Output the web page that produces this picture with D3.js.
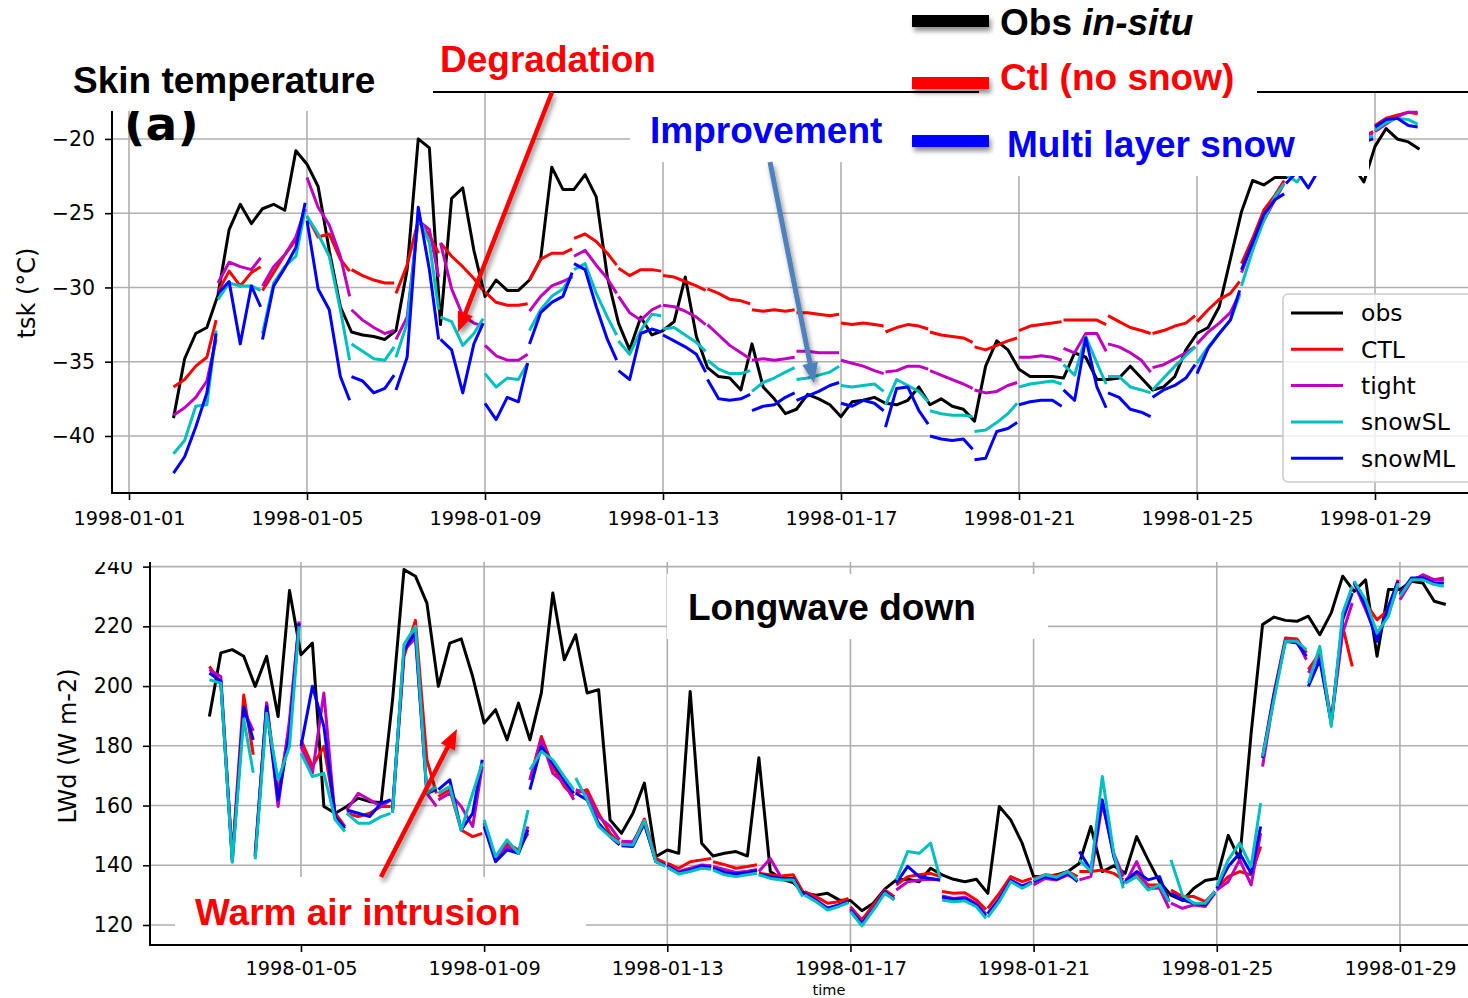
<!DOCTYPE html>
<html><head><meta charset="utf-8">
<script src="https://cdn.jsdelivr.net/npm/d3@7"></script>
<style>
html,body{margin:0;padding:0;background:#fff;}
svg{display:block;}
</style></head><body>
<svg id="chart" width="1468" height="998"></svg>
<script>
// ---------------- DATA ----------------
const seriesNames  = ["obs","CTL","tight","snowSL","snowML"];
const seriesColors = ["#000000","#ff0000","#bf00bf","#00bfbf","#0000ff"];
const modelHours = [0,6,12,18,23];      // sample hours inside each daily forecast segment
const obsStepHours = 6;
const topStartDay = 1;                  // days after 1998-01-01 00:00
const botStartDay = 2;
const xTickDaysTop = [0,4,8,12,16,20,24,28];
const xTickDaysBot = [4,8,12,16,20,24,28];
const yTicksTop = [-40,-35,-30,-25,-20];
const yTicksBot = [120,140,160,180,200,220,240];

// Skin temperature (deg C) - observations every 6 h from Jan 2
const topObs = [
 -38.8,-34.8,-33.1,-32.7, -30.5,-26.1,-24.4,-25.7, -24.7,-24.4,-24.8,-20.8,
 -21.7,-23.2,-27.5,-31.3, -33.0,-33.2,-33.3,-33.5, -32.9,-28.8,-20.0,-20.6,
 -32.5,-24.0,-23.3,-27.5, -30.6,-29.5,-30.2,-30.2, -29.5,-28.1,-21.9,-23.4,
 -23.4,-22.4,-23.9,-29.3, -32.4,-34.2,-32.0,-33.2, -32.9,-32.3,-29.3,-33.3,
 -35.4,-36.0,-36.1,-36.9, -33.8,-36.7,-37.5,-38.5, -38.2,-37.2,-37.5,-37.9,
 -38.7,-37.7,-37.6,-37.4, -37.8,-37.9,-37.6,-36.7, -37.9,-37.5,-38.0,-38.2,
 -39.0,-35.3,-33.6,-34.2, -35.5,-36.0,-36.0,-36.0, -36.1,-34.4,-34.7,-36.2,
 -36.2,-36.1,-35.3,-36.1, -36.9,-36.7,-36.0,-34.2, -33.1,-32.7,-31.3,-28.1,
 -24.9,-22.8,-23.1,-22.6, -22.6,-22.0,-21.5,-21.6, -21.2,-21.5,-21.8,-22.9,
 -20.5,-19.3,-20.0,-20.2, -20.7];
// model daily segments, 5 values per day (hours 0,6,12,18,23), days Jan 2 .. Jan 29
const topCTL = [
 -36.7,-36.2,-35.3,-34.7,-32.2, -30.3,-28.9,-29.9,-29.0,-28.6, -30.2,-29.0,-27.8,-26.8,-24.8,
 -25.2,-26.6,-26.4,-28.1,-28.9, -28.8,-29.2,-29.5,-29.7,-29.7, -30.4,-28.5,-25.5,-26.5,-27.7,
 -27.0,-27.9,-28.6,-29.4,-30.2, -30.3,-31.0,-31.2,-31.2,-31.1, -29.5,-28.1,-27.7,-27.7,-27.4,
 -26.7,-26.4,-26.9,-27.7,-28.5, -28.7,-29.2,-28.8,-28.8,-28.9, -29.2,-29.3,-29.6,-29.9,-30.2,
 -30.1,-30.4,-30.8,-30.9,-31.1, -31.5,-31.6,-31.5,-31.6,-31.5, -31.7,-31.7,-31.8,-31.9,-31.8,
 -32.4,-32.5,-32.4,-32.5,-32.6, -33.0,-32.7,-32.5,-32.6,-32.8, -33.0,-33.2,-33.3,-33.4,-33.7,
 -34.0,-34.2,-33.9,-33.6,-33.4, -32.9,-32.6,-32.5,-32.4,-32.3, -32.2,-32.2,-32.2,-32.2,-32.5,
 -31.9,-32.3,-32.7,-32.9,-33.1, -33.1,-32.9,-32.6,-32.4,-31.9, -32.3,-31.5,-30.8,-30.4,-29.6,
 -28.4,-26.7,-24.8,-23.8,-22.8, -22.2,-21.5,-21.0,-20.8,-20.5, -20.5,-20.2,-20.0,-19.8,-19.5,
 -19.1,-18.6,-18.4,-18.2,-18.3];
const topTight = [
 -38.6,-38.1,-37.4,-36.3,-33.5, -29.7,-28.3,-28.6,-28.8,-28.0, -29.9,-28.6,-27.8,-26.6,-24.7,
 -22.6,-24.6,-25.8,-27.9,-30.6, -31.5,-32.2,-32.7,-33.1,-32.9, -33.5,-32.0,-25.5,-26.1,-29.3,
 -27.0,-30.1,-31.9,-32.4,-32.6, -33.9,-34.6,-34.9,-34.9,-34.5, -31.6,-30.6,-29.9,-29.6,-29.3,
 -27.9,-27.5,-28.5,-29.4,-30.4, -30.6,-31.7,-32.2,-31.5,-31.2, -31.2,-31.3,-31.6,-32.0,-32.5,
 -32.5,-33.2,-33.9,-34.4,-34.8, -34.9,-34.8,-34.9,-34.8,-34.7, -34.3,-34.3,-34.4,-34.4,-34.4,
 -34.9,-35.1,-35.3,-35.6,-35.8, -35.7,-35.6,-35.3,-35.3,-35.5, -35.6,-35.9,-36.2,-36.5,-36.8,
 -36.9,-37.1,-37.0,-36.6,-36.4, -34.7,-34.7,-34.6,-34.7,-34.9, -34.1,-34.4,-33.1,-33.1,-34.3,
 -33.8,-34.0,-34.4,-34.9,-35.7, -35.4,-35.2,-34.8,-34.4,-34.0, -33.8,-33.0,-32.4,-31.7,-30.4,
 -29.0,-27.0,-25.5,-24.1,-23.0, -22.0,-21.5,-21.0,-20.8,-20.6, -20.4,-20.2,-20.0,-19.8,-19.6,
 -19.5,-19.0,-18.5,-18.2,-18.2];
const topSnowSL = [
 -41.2,-40.3,-38.0,-37.9,-32.9, -30.8,-29.7,-29.9,-29.9,-30.2, -33.1,-29.7,-28.6,-27.9,-24.8,
 -25.2,-26.4,-27.9,-31.5,-34.9, -33.8,-34.3,-34.8,-34.9,-34.0, -34.7,-32.4,-25.2,-27.0,-31.5,
 -32.0,-32.3,-33.9,-33.1,-32.1, -35.8,-36.7,-36.1,-36.2,-35.1, -32.9,-31.5,-30.6,-30.1,-29.2,
 -28.8,-28.4,-30.4,-32.0,-33.2, -33.6,-34.5,-32.9,-31.8,-31.9, -32.8,-32.7,-33.2,-33.7,-34.3,
 -34.9,-35.5,-35.8,-35.8,-35.6, -37.0,-36.4,-36.1,-35.7,-35.4, -36.2,-36.1,-35.9,-35.7,-35.3,
 -36.6,-36.7,-36.6,-36.5,-37.0, -37.9,-36.2,-36.6,-37.0,-37.7, -38.3,-38.5,-38.6,-38.6,-38.7,
 -39.7,-39.6,-39.1,-38.5,-37.8, -36.7,-36.5,-36.4,-36.3,-36.5, -35.2,-35.9,-33.3,-35.1,-36.5,
 -36.0,-36.0,-36.7,-36.9,-37.1, -36.9,-36.1,-35.3,-34.6,-34.0, -35.1,-34.0,-33.1,-32.2,-30.5,
 -29.9,-27.5,-25.5,-23.9,-23.0, -22.4,-22.9,-21.8,-21.5,-21.2, -20.8,-20.6,-20.3,-20.1,-19.8,
 -19.4,-18.9,-18.6,-18.7,-19.0];
const topSnowML = [
 -42.5,-41.4,-39.4,-37.1,-33.1, -30.4,-29.6,-33.8,-29.9,-31.3, -33.5,-29.9,-28.7,-27.3,-24.3,
 -25.5,-30.1,-31.5,-36.0,-37.6, -36.0,-36.3,-37.1,-36.8,-35.9, -36.9,-34.7,-24.6,-28.8,-33.5,
 -33.5,-34.2,-37.1,-33.8,-32.4, -37.8,-38.9,-37.4,-37.7,-35.1, -33.8,-31.7,-31.0,-30.6,-29.0,
 -28.4,-28.8,-31.3,-33.5,-34.9, -35.6,-36.2,-33.1,-32.8,-33.0, -33.2,-33.6,-34.0,-34.5,-35.7,
 -36.2,-37.5,-37.6,-37.5,-37.2, -38.3,-38.0,-37.9,-37.4,-37.1, -37.6,-37.3,-37.0,-36.6,-36.4,
 -37.8,-38.0,-37.6,-37.8,-38.3, -39.4,-36.8,-36.7,-38.3,-39.2, -40.0,-40.2,-40.3,-40.2,-40.9,
 -41.6,-41.5,-39.7,-39.5,-39.1, -37.9,-37.7,-37.6,-37.6,-38.0, -36.9,-37.6,-33.4,-36.7,-38.1,
 -37.1,-37.4,-38.2,-38.4,-38.7, -37.4,-36.9,-36.6,-36.1,-35.2, -35.8,-34.1,-33.1,-32.2,-30.2,
 -28.8,-27.0,-25.1,-24.1,-23.7, -23.0,-22.2,-23.3,-22.0,-21.6, -21.2,-20.8,-20.5,-20.2,-20.0,
 -19.2,-18.7,-18.6,-19.1,-19.2];

// Longwave down (W m-2) - observations every 6 h from Jan 3
const botObs = [
 189.8,211.1,212.2,210.0, 199.9,210.0,189.8,232.0, 210.5,214.4,159.7,157.4,
 159.7,162.5,161.3,161.0, 195.4,239.0,236.8,227.8, 199.9,214.4,215.8,203.2,
 187.6,192.1,182.0,194.3, 182.0,197.7,231.2,208.8, 217.2,197.7,198.8,155.2,
 150.7,157.4,167.5,142.9, 145.1,144.0,198.2,147.4, 143.1,144.0,144.6,143.1,
 176.0,137.9,135.3,134.2, 130.6,130.0,130.6,128.4, 128.2,124.8,127.3,132.0,
 135.1,135.3,134.5,139.0, 136.8,135.3,134.5,135.3, 130.6,159.7,155.2,147.4,
 136.2,136.2,136.8,137.9, 140.7,153.0,137.9,139.8, 137.3,149.6,141.8,134.5,
 130.0,128.2,132.3,134.9, 135.6,150.0,141.8,184.2, 220.6,223.1,222.0,221.7,
 223.4,217.2,224.5,236.8, 231.7,235.6,210.0,232.3, 232.3,235.1,234.5,228.4,
 227.3];
// model daily segments, days Jan 3 .. Jan 29
const botCTL = [
 206.6,201.0,143.0,197.0,177.0, 143.0,194.3,164.1,186.5,221.1, 182.0,173.1,179.8,157.4,153.0,
 157.4,156.3,157.4,159.7,159.7, 158.0,210.0,222.0,175.3,164.1, 163.0,165.3,151.8,149.6,150.7,
 154.1,141.8,147.4,145.1,150.7, 168.6,183.1,173.1,166.4,163.0, 164.1,165.3,157.4,150.7,147.4,
 147.5,147.4,155.5,142.3,140.7, 140.7,139.0,141.2,141.8,142.3, 141.2,140.2,139.0,139.6,140.2,
 137.3,136.8,136.4,136.8,131.2, 131.2,129.5,127.3,127.8,128.9, 126.1,121.7,126.7,131.7,129.5,
 133.4,136.2,136.8,137.3,136.2, 131.2,130.6,130.8,128.4,125.2, 125.6,130.6,136.2,134.5,135.6,
 135.6,136.8,136.4,137.9,136.2, 137.9,137.9,138.4,137.3,135.1, 135.1,136.8,133.4,133.4,129.5,
 131.7,129.5,129.5,127.8,131.2, 132.3,136.2,137.9,136.8,146.3, 176.4,197.7,216.1,215.8,211.1,
 205.5,211.1,188.7,220.0,206.6, 234.5,227.8,222.2,225.6,235.6, 231.2,235.6,236.8,235.6,236.2];
const botTight = [
 205.5,203.2,142.0,192.0,185.0, 144.0,194.3,159.7,188.7,221.7, 179.8,170.8,197.7,155.2,153.0,
 158.5,164.1,161.9,159.7,161.9, 159.0,212.0,216.0,164.1,159.7, 161.9,164.1,159.7,153.0,173.1,
 154.1,142.3,146.3,144.0,153.0, 168.6,182.0,170.8,167.5,161.9, 165.3,164.1,156.3,153.0,148.5,
 148.0,147.9,154.0,141.2,139.8, 139.9,137.9,139.0,140.1,139.8, 139.6,138.6,137.6,138.0,138.6,
 137.9,142.3,135.6,135.6,130.0, 130.6,128.4,125.6,126.7,127.8, 125.6,120.8,125.6,131.2,128.6,
 131.7,134.5,135.1,135.3,135.1, 129.7,128.9,129.3,127.3,123.7, 123.9,128.9,135.1,133.1,134.5,
 133.4,135.6,135.1,136.8,135.1, 135.1,136.2,160.8,144.0,136.2, 134.0,141.2,132.3,132.3,125.6,
 127.3,125.6,126.7,126.2,130.6, 131.7,134.5,141.8,133.4,150.7, 173.1,196.6,215.5,215.0,208.8,
 204.4,210.0,187.6,217.8,227.8, 234.5,225.6,216.6,224.5,233.4, 228.9,235.1,237.3,235.6,235.6];
const botSnowSL = [
 202.1,201.0,141.0,189.0,171.0, 142.0,190.9,168.6,179.8,220.0, 177.5,169.7,170.8,155.2,151.3,
 157.4,154.1,154.1,156.3,157.4, 157.5,214.0,220.0,164.1,166.4, 164.1,166.4,151.8,164.1,174.2,
 155.2,142.9,148.5,144.0,158.5, 172.0,178.1,175.3,169.7,165.3, 169.2,161.9,153.0,149.6,147.4,
 147.0,146.8,155.0,141.2,139.6, 139.3,137.1,137.9,139.0,138.7, 138.4,136.8,136.2,136.8,137.3,
 136.8,135.6,135.1,135.1,129.5, 130.0,127.8,125.0,126.2,127.5, 124.5,119.7,125.0,130.6,128.4,
 135.1,144.6,144.0,147.4,135.6, 128.4,127.8,128.1,126.1,122.2, 122.6,127.8,134.5,132.3,134.0,
 135.1,136.8,136.0,137.9,135.1, 141.8,137.9,169.7,144.0,132.3, 134.0,136.2,131.7,133.4,127.8,
 141.8,130.0,127.3,127.3,131.2, 132.9,141.8,147.4,139.6,160.8, 176.4,195.4,215.0,215.0,212.2,
 201.0,213.3,186.5,224.5,233.4, 235.1,228.9,217.8,223.4,234.5, 230.1,235.6,235.6,234.0,233.4];
const botSnowML = [
 204.4,201.6,141.5,193.0,182.0, 143.0,193.2,161.9,184.2,221.1, 179.8,199.9,186.5,156.3,152.4,
 158.5,157.4,156.3,160.8,161.9, 158.5,212.0,218.0,164.1,165.3, 165.3,168.6,151.8,157.4,175.3,
 153.0,141.2,145.1,144.0,151.8, 165.3,179.8,174.2,168.6,164.1, 164.1,161.9,154.1,149.6,146.8,
 146.5,146.3,154.0,141.2,140.1, 139.9,137.5,138.4,139.8,139.3, 139.0,137.6,137.1,137.6,138.2,
 137.0,136.2,135.6,135.6,130.0, 130.6,128.2,125.6,126.7,127.8, 125.0,120.4,125.2,131.2,128.6,
 134.0,139.6,136.2,135.6,135.1, 129.3,128.6,128.9,126.7,123.0, 123.7,128.6,134.9,132.9,134.2,
 134.5,136.2,135.3,137.3,134.5, 144.6,138.4,161.9,142.9,133.4, 134.5,137.9,135.1,136.2,127.8,
 130.6,128.4,127.3,126.7,131.2, 132.3,139.6,144.0,137.3,153.0, 175.9,197.1,215.0,214.4,210.0,
 199.9,208.8,187.6,222.2,231.2, 235.1,226.7,215.0,226.7,235.1, 230.6,236.2,236.2,234.5,234.5];

// ---------------- HELPERS ----------------
const svg = d3.select("#chart");
const defs = svg.append("defs");
const T0 = Date.UTC(1998,0,1), DAY = 864e5;
const dateOf = t => new Date(T0 + t*DAY);
const fmtDate = d3.utcFormat("%Y-%m-%d");
const GRID = "#b0b0b0", TICKFONT = "DejaVu Sans, sans-serif", ANNFONT = "'Liberation Sans', Arial, sans-serif";

function obsPoints(arr, start){ return arr.map((v,i)=>({t:start + i*obsStepHours/24, v})); }
function modelPoints(arr, start){
  const n = modelHours.length, pts = [];
  for (let i=0;i<arr.length;i+=n){
    const d = start + i/n;
    for (let k=0;k<n;k++) pts.push({t:d + modelHours[k]/24, v:arr[i+k]});
    pts.push(null);
  }
  return pts;
}

defs.append("filter").attr("id","shadow").attr("x","-20%").attr("y","-50%").attr("width","140%").attr("height","250%")
  .append("feDropShadow").attr("dx",2).attr("dy",4).attr("stdDeviation",2.5).attr("flood-color","#000").attr("flood-opacity",0.45);

function drawPanel(cfg){
  const {x, y, L, R, T, B, id, xTicks, yTicks, series, order, xPad} = cfg;
  defs.append("clipPath").attr("id",id).append("rect").attr("x",L).attr("y",T).attr("width",R-L).attr("height",B-T);
  const g = svg.append("g");
  // grid
  g.append("g").selectAll("line").data(xTicks).join("line")
    .attr("x1",d=>x(dateOf(d))).attr("x2",d=>x(dateOf(d))).attr("y1",T).attr("y2",B)
    .attr("stroke",GRID).attr("stroke-width",1.6);
  g.append("g").selectAll("line").data(yTicks).join("line")
    .attr("x1",L).attr("x2",R).attr("y1",d=>y(d)).attr("y2",d=>y(d))
    .attr("stroke",GRID).attr("stroke-width",1.6);
  // lines
  const line = d3.line().defined(d=>d!==null).x(d=>x(dateOf(d.t))).y(d=>y(d.v));
  const lg = g.append("g").attr("clip-path",`url(#${id})`);
  order.forEach(i=>{
    lg.append("path").datum(series[i]).attr("d",line).attr("fill","none")
      .attr("stroke",seriesColors[i]).attr("stroke-width",3)
      .attr("stroke-linejoin","round").attr("stroke-linecap","butt");
  });
  // axes
  const ax = g.append("g").attr("transform",`translate(0,${B})`)
    .call(d3.axisBottom(x).tickValues(xTicks.map(dateOf)).tickFormat(fmtDate).tickSize(7).tickSizeOuter(0).tickPadding(xPad));
  const ay = g.append("g").attr("transform",`translate(${L},0)`)
    .call(d3.axisLeft(y).tickValues(yTicks).tickFormat(d3.format("d")).tickSize(7).tickSizeOuter(0).tickPadding(10));
  [ax,ay].forEach(a=>{
    a.select(".domain").remove();
    a.selectAll(".tick line").attr("stroke","#000").attr("stroke-width",1.6);
    a.selectAll(".tick text").attr("fill","#000").attr("font-family",TICKFONT);
  });
  ax.selectAll(".tick text").attr("font-size",19.3);
  ay.selectAll(".tick text").attr("font-size",20.5);
  // spines
  const sp = g.append("g").attr("stroke","#000").attr("stroke-width",2).attr("fill","none");
  sp.append("rect").attr("x",L).attr("y",T).attr("width",R-L).attr("height",B-T);
  return g;
}

// ---------------- TOP PANEL ----------------
const xTop = d3.scaleUtc().domain([dateOf(-0.382), dateOf(30.4)]).range([112, 1481.8]);
const yTop = d3.scaleLinear().domain([-43.84, -16.84]).range([493, 92]);
const topSeries = [obsPoints(topObs, topStartDay), modelPoints(topCTL, topStartDay), modelPoints(topTight, topStartDay),
                   modelPoints(topSnowSL, topStartDay), modelPoints(topSnowML, topStartDay)];
drawPanel({x:xTop, y:yTop, L:112, R:1481.8, T:92, B:493, id:"clipTop", xTicks:xTickDaysTop, yTicks:yTicksTop,
           series:topSeries, order:[0,1,2,3,4], xPad:11});

// legend (matplotlib style)
const leg = svg.append("g");
leg.append("rect").attr("x",1283).attr("y",294).attr("width",200).attr("height",188).attr("rx",5)
  .attr("fill","#fff").attr("fill-opacity",0.8).attr("stroke","#cccccc").attr("stroke-width",1.6);
seriesNames.forEach((nm,i)=>{
  const yy = 313 + i*36.3;
  leg.append("line").attr("x1",1291).attr("x2",1343).attr("y1",yy).attr("y2",yy)
    .attr("stroke",seriesColors[i]).attr("stroke-width",3);
  leg.append("text").attr("x",1361).attr("y",yy).attr("dy","0.36em").text(nm)
    .attr("font-family",TICKFONT).attr("font-size",23.5).attr("fill","#000");
});

svg.append("text").attr("x",124).attr("y",140).text("(a)").attr("font-family",TICKFONT)
  .attr("font-weight","bold").attr("font-size",47).attr("fill","#000");

svg.append("text").attr("transform","translate(27,293) rotate(-90)").attr("text-anchor","middle").attr("dy","0.35em")
  .text("tsk (°C)").attr("font-family",TICKFONT).attr("font-size",24).attr("fill","#000");

// ---------------- BOTTOM PANEL ----------------
const xBot = d3.scaleUtc().domain([dateOf(0.703), dateOf(30.36)]).range([150, 1508]);
const yBot = d3.scaleLinear().domain([113.3, 245.9]).range([945, 549]);
const botSeries = [obsPoints(botObs, botStartDay), modelPoints(botCTL, botStartDay), modelPoints(botTight, botStartDay),
                   modelPoints(botSnowSL, botStartDay), modelPoints(botSnowML, botStartDay)];
drawPanel({x:xBot, y:yBot, L:150, R:1508, T:549, B:945, id:"clipBot", xTicks:xTickDaysBot, yTicks:yTicksBot,
           series:botSeries, order:[0,1,2,4,3], xPad:9});

svg.append("text").attr("transform","translate(68,746) rotate(-90)").attr("text-anchor","middle").attr("dy","0.35em")
  .text("LWd (W m-2)").attr("font-family",TICKFONT).attr("font-size",24).attr("fill","#000");
svg.append("text").attr("x",829).attr("y",994.5).attr("text-anchor","middle")
  .text("time").attr("font-family",TICKFONT).attr("font-size",14.5).attr("fill","#000");

// crop band between the two panels
svg.append("rect").attr("x",0).attr("y",531).attr("width",1468).attr("height",31).attr("fill","#fff");

// ---------------- ANNOTATION OVERLAYS ----------------
const boxes = [
  [0,0,433,111],        // title box
  [630,93,275,69],      // Improvement
  [979,45,278,55],      // Ctl (no snow)
  [905,100,464,76],     // Multi layer snow
  [667,574,381,65],     // Longwave down
  [175,877,411,67]      // Warm air intrusion
];
svg.append("g").selectAll("rect").data(boxes).join("rect")
  .attr("x",d=>d[0]).attr("y",d=>d[1]).attr("width",d=>d[2]).attr("height",d=>d[3]).attr("fill","#fff");

function ann(x,y,txt,color){
  return svg.append("text").attr("x",x).attr("y",y).attr("font-family",ANNFONT).attr("font-weight","bold")
    .attr("font-size",37).attr("fill",color).text(txt);
}
ann(73,93,"Skin temperature","#000");
ann(440,72,"Degradation","#ff0000");
ann(650,143,"Improvement","#0000ff");
ann(688,620,"Longwave down","#000");
ann(195,925,"Warm air intrusion","#ff0000");
const obsT = ann(1000,35,"Obs ","#000");
obsT.append("tspan").attr("font-style","italic").text("in-situ");
ann(1000,90,"Ctl (no snow)","#ff0000");
ann(1007,157,"Multi layer snow","#0000ff");

// legend bars with shadow
[[21,"#000"],[83,"#ff0000"],[141,"#0000ff"]].forEach(([yy,c])=>{
  svg.append("rect").attr("x",912).attr("y",yy-6).attr("width",77).attr("height",12).attr("fill",c).attr("filter","url(#shadow)");
});

// arrows
function arrow(x1,y1,x2,y2,color,w,hl,hw){
  const dx=x2-x1, dy=y2-y1, len=Math.hypot(dx,dy), ux=dx/len, uy=dy/len;
  const bx=x2-ux*hl, by=y2-uy*hl;
  const g=svg.append("g").attr("filter","url(#shadow)");
  g.append("line").attr("x1",x1).attr("y1",y1).attr("x2",bx+ux*2).attr("y2",by+uy*2)
    .attr("stroke",color).attr("stroke-width",w);
  g.append("path").attr("d",`M${x2},${y2}L${bx-uy*hw/2},${by+ux*hw/2}L${bx+uy*hw/2},${by-ux*hw/2}Z`).attr("fill",color);
}
arrow(552,92,458,332,"#ff0000",4.5,20,16);
arrow(770,162,814,383,"#4f81bd",5,20,16);
arrow(381,877,457,729,"#ff0000",4.5,20,16);
</script></body></html>
